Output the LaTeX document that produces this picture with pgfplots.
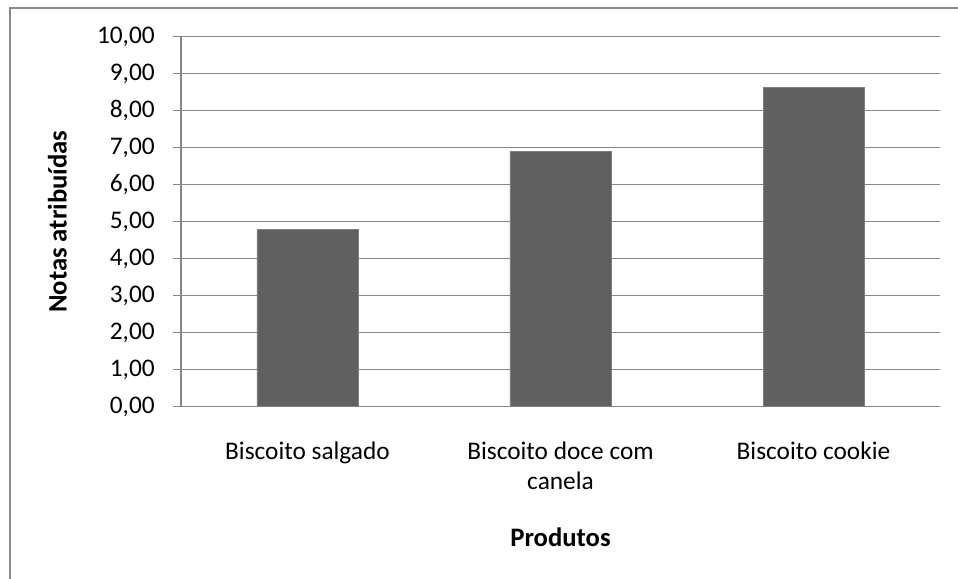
\documentclass[border=0pt]{standalone}
\usepackage{fontspec}
\setmainfont{Carlito}
\usepackage{pgfplots}
\pgfplotsset{compat=1.18}
\definecolor{barfill}{RGB}{96,96,96}
\definecolor{baredge}{RGB}{128,128,128}
\definecolor{gridgray}{RGB}{134,134,134}
\definecolor{framegray}{RGB}{136,136,136}

\begin{document}
\begin{tikzpicture}[x=0.75pt,y=0.75pt]
  % canvas of 958 x 579 units, origin bottom-left
  \useasboundingbox (0,0) rectangle (958,579);
  % outer chart frame
  \draw[framegray, line width=1.5pt] (9.5,-5) -- (9.5,571) -- (965,571);
  \begin{axis}[
    at={(135.75pt,129.2pt)}, anchor=south west,
    scale only axis,
    width=569.25pt, height=277.5pt,
    ymin=0, ymax=10,
    xmin=-0.5, xmax=2.5,
    ytick={0,1,...,10},
    xtick={0,1,2},
    xticklabels={Biscoito salgado, {Biscoito doce com\\canela}, Biscoito cookie},
    xtick style={draw=none},
    ytick style={gridgray, line width=0.9pt},
    tick align=outside,
    major tick length=6pt,
    ymajorgrids,
    grid style={gridgray, line width=0.9pt},
    axis line style={gridgray, line width=0.9pt},
    axis x line*=bottom,
    axis y line*=left,
    /pgf/number format/.cd, use comma, fixed, fixed zerofill, precision=2, assume math mode=true,
    /pgfplots/.cd,
    tick label style={font=\fontsize{19}{23}\selectfont, black, inner sep=0pt},
    yticklabel style={xshift=-13.5pt},
    xticklabel style={align=center, anchor=north, yshift=-20pt},
    ylabel={Notas atribuídas},
    xlabel={Produtos},
    every axis y label/.style={at={(axis description cs:-0.163,0.5)}, rotate=90, anchor=center,
      font=\fontsize{20}{24}\selectfont\bfseries},
    every axis x label/.style={at={(axis description cs:0.5,-0.352)}, anchor=center,
      font=\fontsize{20}{24}\selectfont\bfseries},
  ]
    \addplot[ybar, bar width=75.75pt, fill=barfill, draw=baredge, line width=0.6pt]
      coordinates {(0,4.78) (1,6.91) (2,8.63)};
  \end{axis}
\end{tikzpicture}
\end{document}
